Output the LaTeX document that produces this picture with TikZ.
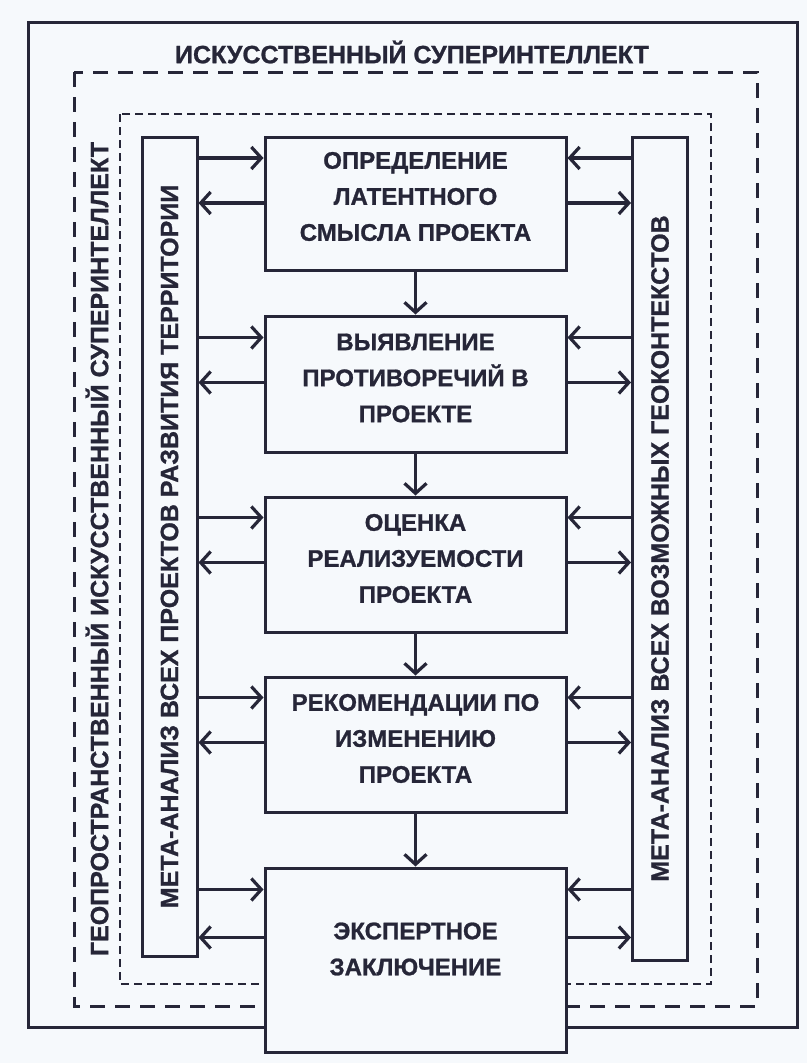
\documentclass[tikz,border=0pt]{standalone}
\usepackage{fontspec}
\setmainfont{Liberation Sans}[BoldFeatures={FakeBold=1}]
\usepackage{tikz}
\usetikzlibrary{arrows.meta}
\definecolor{ink}{RGB}{38,38,56}
\definecolor{paper}{RGB}{246,249,252}
\tikzset{
    stage/.style={
        draw=ink,
        line width=3pt,
        fill=paper,
        minimum width=301pt
    },
    stagetext/.style={
        align=center,
        text=ink,
        font=\fontsize{24}{36}\selectfont\bfseries
    },
    metabar/.style={
        draw=ink,
        line width=3pt,
        minimum width=55pt
    },
    vlabel/.style={
        rotate=90,
        text=ink,
        font=\fontsize{25}{26}\selectfont\bfseries
    },
    flow/.style={
        draw=ink,
        line width=3.2pt,
        -{Straight Barb[length=10pt, width=22pt, line width=3.2pt]}
    }
}

\begin{document}
\begin{tikzpicture}[x=1pt, y=-1pt]
    % Page and background
    \fill[paper] (0,0) rectangle (807,1063);
    \useasboundingbox (0,0) rectangle (807,1063);

    % Frames
    \draw[ink, line width=3pt] (28,22) rectangle (797,1027);
    \draw[ink, line width=3pt, dash pattern=on 15pt off 10pt] (74,72) rectangle (757,1006);
    \draw[ink, line width=2.5pt, dash pattern=on 8pt off 5pt] (120,114) rectangle (711,984);

    \node[text=ink, font=\fontsize{25}{26}\selectfont\bfseries] (title) at (412,52) {ИСКУССТВЕННЫЙ СУПЕРИНТЕЛЛЕКТ};
    \node[vlabel] (geo) at (97,549) {ГЕОПРОСТРАНСТВЕННЫЙ ИСКУССТВЕННЫЙ СУПЕРИНТЕЛЛЕКТ};

    % Meta-analysis bars
    \node[metabar, minimum height=819pt] (lbar) at (169.5,546.5) {};
    \node[metabar, minimum height=823pt] (rbar) at (660,548.5) {};
    \node[vlabel] (ltext) at (lbar.center) {МЕТА-АНАЛИЗ ВСЕХ ПРОЕКТОВ РАЗВИТИЯ ТЕРРИТОРИИ};
    \node[vlabel] (rtext) at (rbar.center) {МЕТА-АНАЛИЗ ВСЕХ ВОЗМОЖНЫХ ГЕОКОНТЕКСТОВ};

    % Stages
    \node[stage, minimum height=133pt] (s1) at (415.5,203.5) {};
    \node[stage, minimum height=136pt] (s2) at (415.5,384) {};
    \node[stage, minimum height=135pt] (s3) at (415.5,564.5) {};
    \node[stage, minimum height=135pt] (s4) at (415.5,744.5) {};
    \node[stage, minimum height=184pt] (s5) at (415.5,960) {};

    \node[stagetext] (t1) at ([yshift=7pt]s1.center) {ОПРЕДЕЛЕНИЕ\\ЛАТЕНТНОГО\\СМЫСЛА ПРОЕКТА};
    \node[stagetext] (t2) at ([yshift=6pt]s2.center) {ВЫЯВЛЕНИЕ\\ПРОТИВОРЕЧИЙ В\\ПРОЕКТЕ};
    \node[stagetext] (t3) at ([yshift=6pt]s3.center) {ОЦЕНКА\\РЕАЛИЗУЕМОСТИ\\ПРОЕКТА};
    \node[stagetext] (t4) at ([yshift=6pt]s4.center) {РЕКОМЕНДАЦИИ ПО\\ИЗМЕНЕНИЮ\\ПРОЕКТА};
    \node[stagetext] (t5) at ([yshift=11pt]s5.center) {ЭКСПЕРТНОЕ\\ЗАКЛЮЧЕНИЕ};

    % Stage sequence
    \foreach \a/\b in {s1/s2, s2/s3, s3/s4, s4/s5}
        \draw[flow] (\a) -- (\b);

    % Exchange with the bars
    \foreach \s/\din/\dout in {s1/22.5/67.5, s2/23/68, s3/22/67, s4/22/67, s5/23/71} {
        \coordinate (\s inl) at ([yshift=-\din pt]\s.north west);
        \coordinate (\s outl) at ([yshift=-\dout pt]\s.north west);
        \coordinate (\s inr) at ([yshift=-\din pt]\s.north east);
        \coordinate (\s outr) at ([yshift=-\dout pt]\s.north east);
        \draw[flow] (lbar.east |- \s inl) -- (\s inl);
        \draw[flow] (\s outl) -- (lbar.east |- \s outl);
        \draw[flow] (rbar.west |- \s inr) -- (\s inr);
        \draw[flow] (\s outr) -- (rbar.west |- \s outr);
    }
\end{tikzpicture}
\end{document}
